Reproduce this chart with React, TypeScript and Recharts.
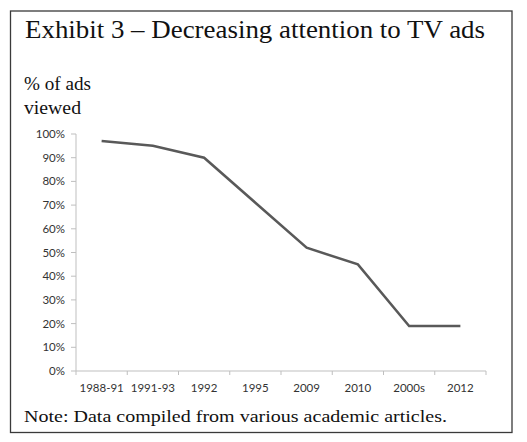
import React from 'react';
import { LineChart, Line, XAxis, YAxis } from 'recharts';

const categories = ['1988-91', '1991-93', '1992', '1995', '2009', '2010', '2000s', '2012'];
const viewedPct = [97, 95, 90, 71, 52, 45, 19, 19];
const yTicks = [0, 10, 20, 30, 40, 50, 60, 70, 80, 90, 100];

const data = categories.map((c, i) => ({ period: c, viewed: viewedPct[i] }));

const W = 527;
const H = 442;
const PLOT_LEFT = 76;
const PLOT_RIGHT = 486;
const PLOT_TOP = 134;
const PLOT_BOTTOM = 371;
const X_AXIS_H = 30;
const HALF_BAND = (PLOT_RIGHT - PLOT_LEFT) / categories.length / 2;

const AXIS_COLOR = '#bfbfbf';
const TEXT_COLOR = '#333333';
const SANS = 'Lato, "Open Sans", sans-serif';
const SERIF = '"Liberation Serif", "DejaVu Serif", serif';

const XTick = (props: any) => {
  const { x, y, payload, index } = props;
  const last = index === categories.length - 1;
  return (
    <g>
      <line x1={x - HALF_BAND} x2={x - HALF_BAND} y1={y} y2={y + 4} stroke={AXIS_COLOR} strokeWidth={1} />
      {last && (
        <line x1={x + HALF_BAND} x2={x + HALF_BAND} y1={y} y2={y + 4} stroke={AXIS_COLOR} strokeWidth={1} />
      )}
      <text x={x} y={y + 21} textAnchor="middle" fill={TEXT_COLOR} fontSize={11.5} fontFamily={SANS}>
        {payload.value}
      </text>
    </g>
  );
};

export default function App() {
  return (
    <div style={{ position: 'absolute', left: 0, top: 0, width: W, height: H, background: '#fff' }}>
      <LineChart
        width={W}
        height={H}
        data={data}
        margin={{ top: PLOT_TOP, right: W - PLOT_RIGHT, bottom: H - PLOT_BOTTOM - X_AXIS_H, left: 0 }}
      >
        <XAxis
          dataKey="period"
          height={X_AXIS_H}
          interval={0}
          padding={{ left: HALF_BAND, right: HALF_BAND }}
          axisLine={{ stroke: AXIS_COLOR, strokeWidth: 1 }}
          tickLine={false}
          tickSize={0}
          tickMargin={0}
          tick={<XTick />}
        />
        <YAxis
          width={PLOT_LEFT}
          domain={[0, 100]}
          ticks={yTicks}
          interval={0}
          tickFormatter={(v: number) => `${v}%`}
          axisLine={{ stroke: AXIS_COLOR, strokeWidth: 1 }}
          tickLine={{ stroke: AXIS_COLOR, strokeWidth: 1 }}
          tickSize={5}
          tickMargin={6}
          tick={{ fill: TEXT_COLOR, fontSize: 11.5, fontFamily: SANS }}
        />
        <Line
          type="linear"
          dataKey="viewed"
          stroke="#595959"
          strokeWidth={2.5}
          dot={false}
          activeDot={false}
          isAnimationActive={false}
        />
      </LineChart>
      <svg
        width={W}
        height={H}
        style={{ position: 'absolute', left: 0, top: 0, pointerEvents: 'none' }}
      >
        <rect x={10.5} y={11} width={501.5} height={421.5} fill="none" stroke="#3a3a3a" strokeWidth={1.3} />
        <text x={25} y={37.5} fontFamily={SERIF} fontSize={25} fill="#111" textLength={460} lengthAdjust="spacingAndGlyphs">
          Exhibit 3 – Decreasing attention to TV ads
        </text>
        <text x={24} y={90} fontFamily={SERIF} fontSize={18} fill="#111" textLength={67} lengthAdjust="spacingAndGlyphs">
          % of ads
        </text>
        <text x={24} y={113.5} fontFamily={SERIF} fontSize={18} fill="#111" textLength={57} lengthAdjust="spacingAndGlyphs">
          viewed
        </text>
        <text x={24} y={421.5} fontFamily={SERIF} fontSize={17} fill="#111" textLength={423} lengthAdjust="spacingAndGlyphs">
          Note: Data compiled from various academic articles.
        </text>
      </svg>
    </div>
  );
}
